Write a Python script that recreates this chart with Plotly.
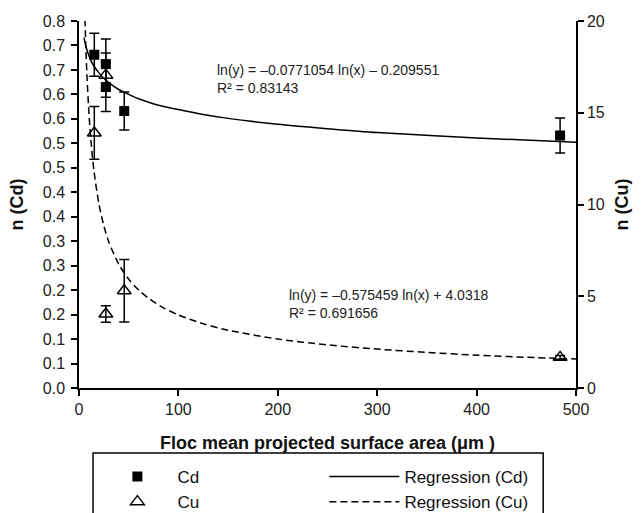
import plotly.graph_objects as go

# ---- data ----
cd_x = [15.4, 27.0, 27.0, 45.5, 484.0]
cd_y = [0.681, 0.662, 0.615, 0.566, 0.516]
cd_err = [0.044, 0.051, 0.050, 0.039, 0.036]

cu_x = [15.4, 27.0, 27.0, 45.5, 484.0]
cu_y = [13.9, 17.05, 4.03, 5.30, 1.67]
cu_err = [1.44, 1.20, 0.45, 1.70, 0.10]

# regression curves
reg_cd_x = [5, 7, 10, 12, 15, 20, 25, 30, 40, 50, 60, 70, 80, 100, 125, 150, 200, 250, 300, 400, 500]
reg_cd_y = [0.716, 0.698, 0.679, 0.669, 0.658, 0.644, 0.633, 0.624, 0.610, 0.600, 0.591, 0.584,
            0.578, 0.569, 0.559, 0.551, 0.539, 0.530, 0.522, 0.511, 0.502]

reg_cu_x = [6, 7, 8, 10, 12, 15, 20, 25, 30, 40, 50, 60, 70, 85, 100, 125, 150, 200, 250, 300, 350,
            400, 450, 500]
reg_cu_y = [20.10, 18.40, 17.03, 14.98, 13.49, 11.86, 10.05, 8.84, 7.96, 6.75, 5.93, 5.34, 4.89,
            4.37, 3.98, 3.50, 3.15, 2.67, 2.35, 2.12, 1.94, 1.79, 1.675, 1.58]

x_ticks = [0, 100, 200, 300, 400, 500]
y_left_ticks = [0.0, 0.05, 0.10, 0.15, 0.20, 0.25, 0.30, 0.35, 0.40, 0.45, 0.50, 0.55, 0.60, 0.65, 0.70, 0.75]
y_left_labels = ["0.0", "0.1", "0.1", "0.2", "0.2", "0.3", "0.3", "0.4", "0.4",
                 "0.5", "0.5", "0.6", "0.6", "0.7", "0.7", "0.8"]
y_right_ticks = [0, 5, 10, 15, 20]

eq_cd = "ln(y) = –0.0771054 ln(x) – 0.209551<br>R² = 0.83143"
eq_cu = "ln(y) = –0.575459 ln(x) + 4.0318<br>R² = 0.691656"

FONT = "Arial, 'Liberation Sans', sans-serif"

fig = go.Figure()

fig.add_trace(go.Scatter(
    x=cd_x, y=cd_y, mode="markers", name="Cd",
    marker=dict(symbol="square", size=10, color="black"),
    error_y=dict(type="data", array=cd_err, visible=True, color="black", thickness=1.5, width=5),
    yaxis="y",
))
fig.add_trace(go.Scatter(
    x=reg_cd_x, y=reg_cd_y, mode="lines", name="Regression (Cd)",
    line=dict(color="black", width=1.5, shape="spline", smoothing=0.8),
    yaxis="y",
))
fig.add_trace(go.Scatter(
    x=cu_x, y=cu_y, mode="markers", name="Cu",
    marker=dict(symbol="triangle-up-open", size=12, color="black", line=dict(width=1.5)),
    error_y=dict(type="data", array=cu_err, visible=True, color="black", thickness=1.5, width=5),
    yaxis="y2",
))
fig.add_trace(go.Scatter(
    x=reg_cu_x, y=reg_cu_y, mode="lines", name="Regression (Cu)",
    line=dict(color="black", width=1.5, dash="7px,4px", shape="spline", smoothing=0.8),
    yaxis="y2",
))

fig.add_annotation(x=137, y=0.6325, xref="x", yref="y", text=eq_cd, showarrow=False,
                   xanchor="left", yanchor="middle", align="left",
                   font=dict(family=FONT, size=14, color="#222"))
fig.add_annotation(x=209, y=0.1707, xref="x", yref="y", text=eq_cu, showarrow=False,
                   xanchor="left", yanchor="middle", align="left",
                   font=dict(family=FONT, size=14, color="#222"))

# legend frame (runs past the bottom edge, as in the reference)
fig.add_shape(type="rect", xref="paper", yref="paper",
              x0=0.0282, x1=0.934, y0=-0.40, y1=-0.177,
              line=dict(color="black", width=1.5), fillcolor="rgba(0,0,0,0)", layer="above")

axis_common = dict(showline=True, linecolor="black", linewidth=1.5, ticks="outside",
                   ticklen=6, tickwidth=1.5, tickcolor="black", showgrid=False, zeroline=False,
                   automargin=False,
                   tickfont=dict(family=FONT, size=16, color="#222"))

fig.update_layout(
    width=641, height=513,
    margin=dict(l=79, r=65, t=21, b=125, autoexpand=False),
    paper_bgcolor="white", plot_bgcolor="white",
    font=dict(family=FONT, color="#111"),
    xaxis=dict(range=[0, 500], tickvals=x_ticks,
               title=dict(text="<b>Floc mean projected surface area (μm )</b>",
                          font=dict(family=FONT, size=18, color="#111"), standoff=19),
               **axis_common),
    yaxis=dict(range=[0, 0.75], tickvals=y_left_ticks, ticktext=y_left_labels, ticklabelstandoff=3,
               title=dict(text="<b>n (Cd)</b>", font=dict(family=FONT, size=18, color="#111"), standoff=14),
               **axis_common),
    yaxis2=dict(range=[0, 20], tickvals=y_right_ticks, overlaying="y", side="right",
                title=dict(text="<b>n (Cu)</b>", font=dict(family=FONT, size=18, color="#111"), standoff=12),
                **axis_common),
    showlegend=True,
    legend=dict(orientation="h", x=0.037, y=-0.1935, xanchor="left", yanchor="top",
                xref="paper", yref="paper",
                itemwidth=70, entrywidth=142, entrywidthmode="pixels",
                borderwidth=0, bgcolor="rgba(0,0,0,0)",
                font=dict(family=FONT, size=17, color="#111"),
                tracegroupgap=0),
)

fig.write_html("out.html")
